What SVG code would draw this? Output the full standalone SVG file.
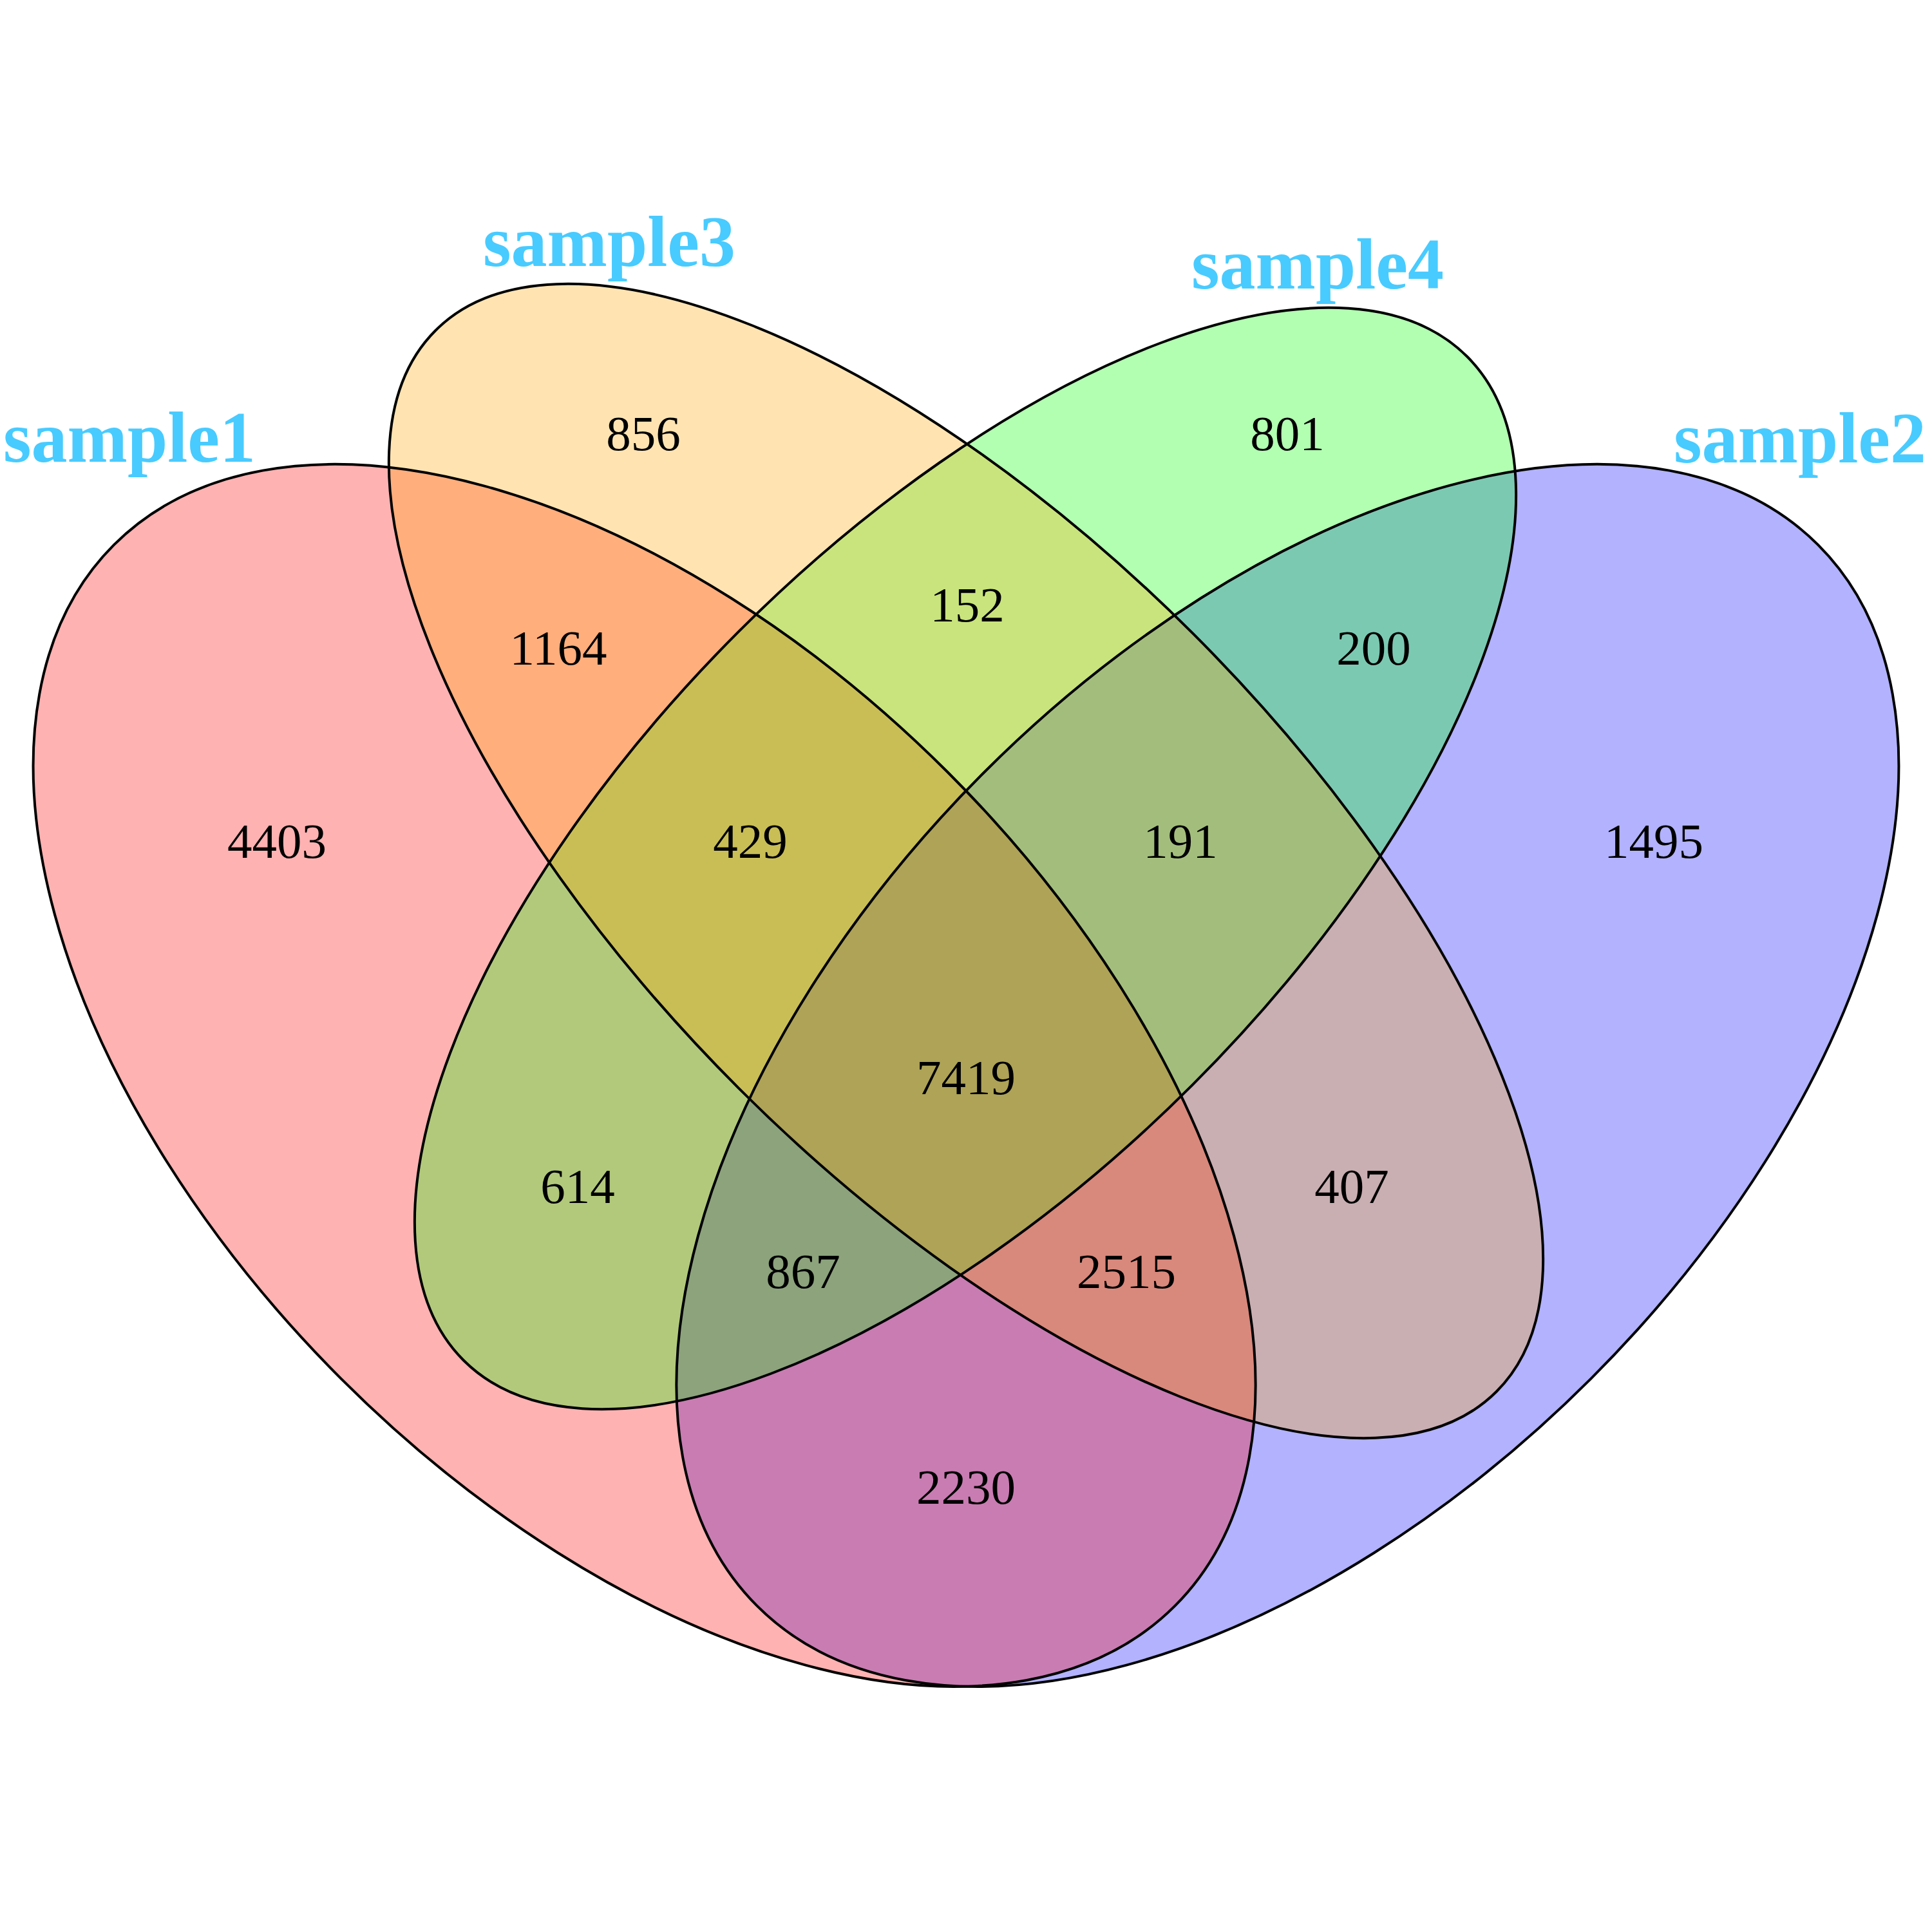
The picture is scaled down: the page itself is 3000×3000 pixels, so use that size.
<svg xmlns="http://www.w3.org/2000/svg" width="3000" height="3000" viewBox="0 0 3000 3000">
<style>
.fill{stroke:none;fill-opacity:0.3}
.edge{fill:none;stroke:#000;stroke-width:4}
.num{font-family:"Liberation Serif","Times New Roman",serif;font-size:77px;fill:#000;text-anchor:middle}
.cat{font-family:"Liberation Serif","Times New Roman",serif;font-size:112px;font-weight:bold;fill:#48CBFF;text-anchor:middle}
</style>
<rect width="3000" height="3000" fill="#fff"/>
<g id="fills">
<ellipse id="fill-sample2" class="fill" fill="#0000FF" cx="1999.4" cy="1669.9" rx="1165" ry="666" transform="rotate(-45 1999.4 1669.9)"/>
<ellipse id="fill-sample1" class="fill" fill="#FF0000" cx="1000.6" cy="1669.9" rx="1165" ry="666" transform="rotate(45 1000.6 1669.9)"/>
<ellipse id="fill-sample4" class="fill" fill="#00FF00" cx="1499" cy="1333" rx="1102" ry="498" transform="rotate(-45 1499 1333)"/>
<ellipse id="fill-sample3" class="fill" fill="#FFA500" cx="1500" cy="1337" rx="1165" ry="499" transform="rotate(45 1500 1337)"/>
</g>
<g id="outlines">
<ellipse id="sample1" class="edge" cx="1000.6" cy="1669.9" rx="1165" ry="666" transform="rotate(45 1000.6 1669.9)"/>
<ellipse id="sample2" class="edge" cx="1999.4" cy="1669.9" rx="1165" ry="666" transform="rotate(-45 1999.4 1669.9)"/>
<ellipse id="sample3" class="edge" cx="1500" cy="1337" rx="1165" ry="499" transform="rotate(45 1500 1337)"/>
<ellipse id="sample4" class="edge" cx="1499" cy="1333" rx="1102" ry="498" transform="rotate(-45 1499 1333)"/>
</g>
<g id="counts">
<text class="num" x="999" y="699">856</text>
<text class="num" x="1999" y="699">801</text>
<text class="num" x="867" y="1032">1164</text>
<text class="num" x="1502" y="965">152</text>
<text class="num" x="2133" y="1032">200</text>
<text class="num" x="430" y="1332">4403</text>
<text class="num" x="1165" y="1332">429</text>
<text class="num" x="1833" y="1332">191</text>
<text class="num" x="2568" y="1332">1495</text>
<text class="num" x="1500" y="1699">7419</text>
<text class="num" x="897" y="1868">614</text>
<text class="num" x="2099" y="1868">407</text>
<text class="num" x="1247" y="2000">867</text>
<text class="num" x="1749" y="2000">2515</text>
<text class="num" x="1500" y="2335">2230</text>
</g>
<g id="labels">
<text class="cat" x="201" y="717">sample1</text>
<text class="cat" x="946" y="413">sample3</text>
<text class="cat" x="2046" y="448">sample4</text>
<text class="cat" x="2795" y="718">sample2</text>
</g>
</svg>
